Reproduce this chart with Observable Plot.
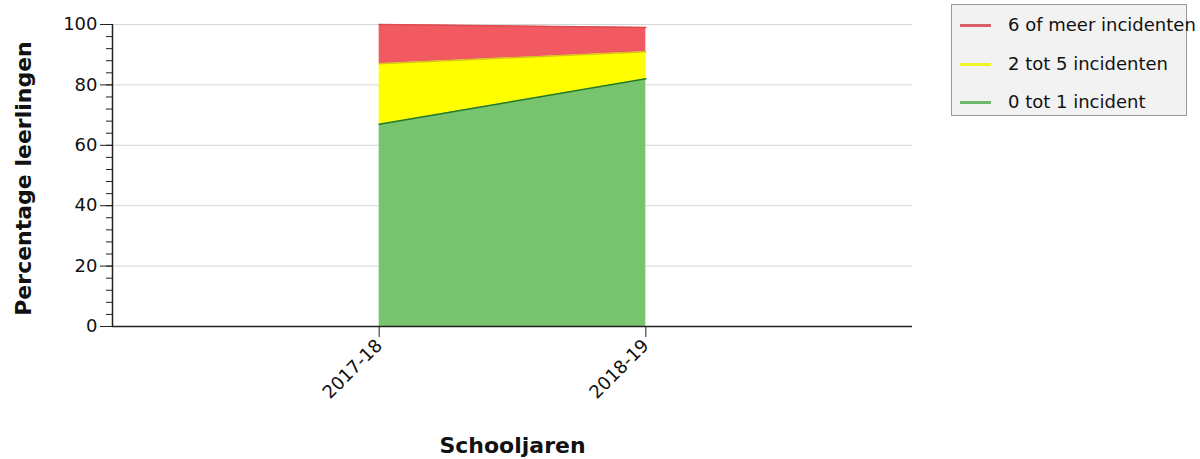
<!DOCTYPE html>
<html><head><meta charset="utf-8">
<script src="https://cdn.jsdelivr.net/npm/d3@7"></script>
<script src="https://cdn.jsdelivr.net/npm/@observablehq/plot@0.6"></script>
<style>
body{margin:0;background:#fff;}
#wrap{position:relative;width:1200px;height:459px;overflow:hidden;}
#legend{position:absolute;left:951px;top:4px;width:236px;height:112px;background:#f2f2f2;border:1px solid #9a9a9a;box-sizing:border-box;font:18px "DejaVu Sans";color:#111;}
.sw{position:absolute;left:8px;width:31px;height:3px;}
.lb{position:absolute;left:56px;white-space:nowrap;line-height:20px;}
</style></head>
<body><div id="wrap"><div id="chart"></div><div id="legend"></div></div>
<script>
const years = ["2017-18", "2018-19"];
const seriesNames = ["0 tot 1 incident", "2 tot 5 incidenten", "6 of meer incidenten"];
const greenValues = [67, 82];
const yellowValues = [20, 9];
const redValues = [13, 8];
const yTicks = [0, 20, 40, 60, 80, 100];
const legendOrder = ["6 of meer incidenten", "2 tot 5 incidenten", "0 tot 1 incident"];

const fillColors = {"0 tot 1 incident": "#78c36e", "2 tot 5 incidenten": "#ffff00", "6 of meer incidenten": "#f05a60"};
const lineColors = {"0 tot 1 incident": "#237a23", "2 tot 5 incidenten": "#d8c418", "6 of meer incidenten": "#dc4a50"};
const swatchColors = {"0 tot 1 incident": "#6fb86f", "2 tot 5 incidenten": "#f2f22a", "6 of meer incidenten": "#d95f66"};

const valueLists = [greenValues, yellowValues, redValues];
const rows = [];
seriesNames.forEach((s, k) => years.forEach((y, i) => rows.push({i, year: y, series: s, value: valueLists[k][i]})));

const chart = Plot.plot({
  width: 1200, height: 459,
  marginLeft: 112, marginRight: 288, marginTop: 24, marginBottom: 133,
  style: {fontFamily: "DejaVu Sans", fontSize: "18px", background: "transparent", color: "#000"},
  x: {type: "linear", domain: [-1, 2], axis: null},
  y: {domain: [0, 100], axis: null},
  color: {type: "identity"},
  marks: [
    Plot.gridY(yTicks.slice(1), {stroke: "#d6d6d6", strokeOpacity: 1, strokeWidth: 1}),
    Plot.areaY(rows, {x: "i", y: "value", z: "series", fill: d => fillColors[d.series], order: seriesNames}),
    Plot.lineY(rows, Plot.stackY2({x: "i", y: "value", z: "series", stroke: d => lineColors[d.series], order: seriesNames, strokeWidth: 1.5})),
    Plot.axisY({ticks: d3.range(0, 101, 4), tickSize: 6, text: null, label: null, stroke: "#222"}),
    Plot.axisY({ticks: yTicks, tickSize: 12, tickPadding: 3, label: null, stroke: "#222", fill: "#111"}),
    Plot.axisX({ticks: [0, 1], tickFormat: i => years[i], tickSize: 11, tickPadding: 5, tickRotate: -45, label: null, stroke: "#222", fill: "#111"}),
    Plot.ruleX([-1], {stroke: "#222", strokeWidth: 1.5}),
    Plot.ruleY([0], {stroke: "#222", strokeWidth: 1.5}),
    Plot.text(["Percentage leerlingen"], {text: d => d, frameAnchor: "left", textAnchor: "middle", lineAnchor: "middle", dx: -89, dy: 3, rotate: -90, fontWeight: "bold", fontSize: 22, fill: "#111"}),
    Plot.text(["Schooljaren"], {text: d => d, frameAnchor: "bottom", textAnchor: "middle", dy: 126, fontWeight: "bold", fontSize: 22, fill: "#111"})
  ]
});
document.getElementById("chart").appendChild(chart);

const legend = document.getElementById("legend");
const rowTops = [21, 60, 98];
legendOrder.forEach((s, k) => {
  const sw = document.createElement("div");
  sw.className = "sw";
  sw.style.top = (rowTops[k] - 2) + "px";
  sw.style.background = swatchColors[s];
  legend.appendChild(sw);
  const lb = document.createElement("div");
  lb.className = "lb";
  lb.style.top = (rowTops[k] - 11) + "px";
  lb.textContent = s;
  legend.appendChild(lb);
});
</script>
</body></html>
